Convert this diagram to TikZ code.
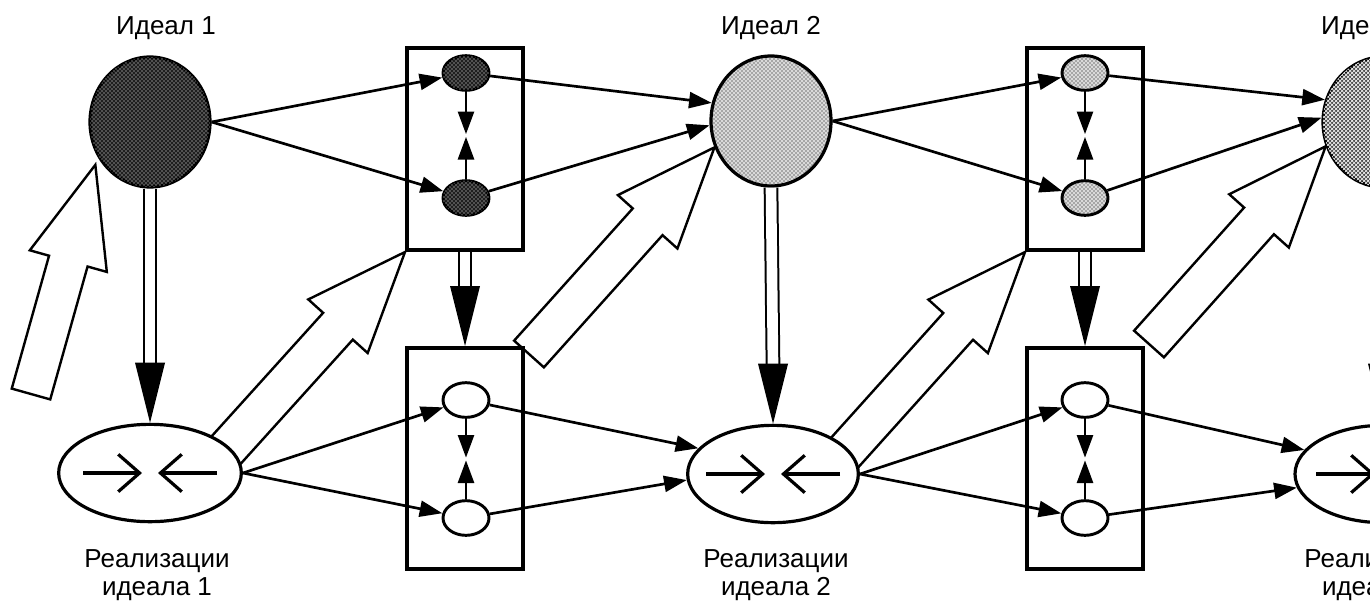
\documentclass[tikz,border=0pt]{standalone}
\usepackage{fontspec}
\setmainfont{Liberation Sans}
\usetikzlibrary{arrows.meta,calc,shapes.geometric,patterns,backgrounds}

\tikzset{every picture/.style={line width=0.75pt}}
\tikzset{
ideal/.style={ellipse, draw, line width=2.4pt, inner sep=0pt, minimum width=90pt, minimum height=97.5pt},
real/.style={ellipse, draw, fill=white, line width=2.4pt, inner sep=0pt, minimum width=132pt, minimum height=73pt},
cell/.style={ellipse, draw, line width=2.2pt, inner sep=0pt, minimum width=34.5pt, minimum height=26pt},
stage/.style={rectangle, draw, line width=3pt, inner sep=0pt, minimum width=87pt},
darkfill/.style={fill=black!88, postaction={pattern=crosshatch dots, pattern color=white}},
palefill/.style={fill=black!15, postaction={pattern=crosshatch dots, pattern color=black}},
gridfill/.style={fill=black!70, postaction={pattern=crosshatch, pattern color=white}},
link/.style={line width=2pt, -{Triangle[length=17pt, width=12pt]}},
rail/.style={double, double distance=8pt, line width=1.5pt},
hollow/.style={line width=1.8pt, fill=white, line join=miter},
conv/.style={line width=2.4pt, -{Straight Barb[length=16pt, width=28pt]}},
lbl/.style={font=\fontsize{19.5}{21}\selectfont, inner sep=0pt}
}

\newcommand\hollowarrow[2]{
    \coordinate (h0) at ($(#2)!75pt!(#1)$);
    \draw [hollow] ($(#1)!15pt!90:(#2)$) -- ($(h0)!15pt!90:(#2)$) -- ($(h0)!30pt!90:(#2)$)
        -- (#2) -- ($(h0)!30pt!-90:(#2)$) -- ($(h0)!15pt!-90:(#2)$) -- ($(#1)!15pt!-90:(#2)$) -- cycle ;
}

\begin{document}
\begin{tikzpicture}[x=0.75pt,y=0.75pt,yscale=-1,xscale=1]

\useasboundingbox (0,0) rectangle (1370,601);
\clip (0,0) rectangle (1370,601);

% IDEALS

\node [ideal, darkfill] (I1) at (150,122) {};
\node [ideal, palefill] (I2) at (771,121) {};
\node [ideal, gridfill] (I3) at (1383,122) {};

% REALISATIONS

\node [real, minimum width=137pt] (R1) at (150,473) {};
\node [real, minimum width=128pt] (R2) at (773,474) {};
\node [real] (R3) at (1383,474) {};

% BOXES

\node [stage, minimum height=151.5pt] (B1u) at (465,149) {};
\node [stage, minimum height=165.75pt] (B1l) at (465,458.5) {};
\node [stage, minimum height=151.5pt] (B2u) at (1085,149) {};
\node [stage, minimum height=165.75pt] (B2l) at (1085,458.5) {};

\foreach \b/\x/\f in {1/466/darkfill, 2/1085/palefill}{
    \node [cell, \f] (a\b) at (\x,73) {};
    \node [cell, \f] (b\b) at (\x,198) {};
    \node [cell, fill=white] (c\b) at (\x,400) {};
    \node [cell, fill=white] (d\b) at (\x,518) {};
    \coordinate (mu\b) at ($(a\b.south)!0.5!(b\b.north)$);
    \coordinate (ml\b) at ($(c\b.south)!0.5!(d\b.north)$);
    \draw [link, shorten >=1pt] (a\b) -- (mu\b);
    \draw [link, shorten >=1pt] (b\b) -- (mu\b);
    \draw [link, shorten >=1pt] (c\b) -- (ml\b);
    \draw [link, shorten >=1pt] (d\b) -- (ml\b);
}

% CONVERGENCE SIGNS

\foreach \r in {R1,R2,R3}{
    \draw [conv] ($(\r.center)+(-67,0)$) -- ($(\r.center)+(-8,0)$);
    \draw [conv] ($(\r.center)+(67,0)$) -- ($(\r.center)+(8,0)$);
}

% EDGES

\draw [link] (I1.east) -- (a1) ;
\draw [link] (I1.east) -- (b1) ;
\draw [link] (a1) -- (I2.163) ;
\draw [link] (b1) -- (I2.184) ;
\draw [link] (I2.east) -- (a2) ;
\draw [link] (I2.east) -- (b2) ;
\draw [link] (a2) -- (I3.159) ;
\draw [link] (b2) -- (I3.176) ;

\draw [link] (R1.east) -- (c1) ;
\draw [link] (R1.east) -- (d1) ;
\draw [link] (c1) -- (R2.161) ;
\draw [link] (d1) -- (R2.184) ;
\draw [link] (R2.east) -- (c2) ;
\draw [link] (R2.east) -- (d2) ;
\draw [link] (c2) -- (R3.163) ;
\draw [link] (d2) -- (R3.189) ;

% DOWN ARROWS

\foreach \u/\v in {I1/R1, B1u/B1l, I2/R2, B2u/B2l, I3/R3}{
    \draw [rail] (\u.south) -- ($(\v.north)+(0,-58)$);
    \fill [black] ($(\v.north)+(-15,-60)$) -- (\v.north) -- ($(\v.north)+(15,-60)$) -- cycle;
}

% HOLLOW ARROWS

\coordinate (t1) at (31,394);
\coordinate (t2) at (200,479);
\coordinate (t3) at (529,354);
\coordinate (t4) at (820,480);
\coordinate (t5) at (1149,344);
\coordinate (p1) at ($(I1.220)+(-6,2)$);

\begin{scope}[on background layer]
\hollowarrow{t1}{p1}
\hollowarrow{t2}{B1u.south west}
\hollowarrow{t3}{I2.205}
\hollowarrow{t4}{B2u.south west}
\hollowarrow{t5}{I3.203}
\end{scope}

% LABELS

\node [lbl] (L1) at (166,28) {Идеал 1};
\node [lbl] (L2) at (771,28) {Идеал 2};
\node [lbl] (L3) at (1371,28) {Идеал 3};
\node [lbl, align=center, anchor=north] (N1) at (157,549) {Реализации\\идеала 1};
\node [lbl, align=center, anchor=north] (N2) at (776,549) {Реализации\\идеала 2};
\node [lbl, align=center, anchor=north] (N3) at (1377,549) {Реализации\\идеала 3};

\end{tikzpicture}
\end{document}
